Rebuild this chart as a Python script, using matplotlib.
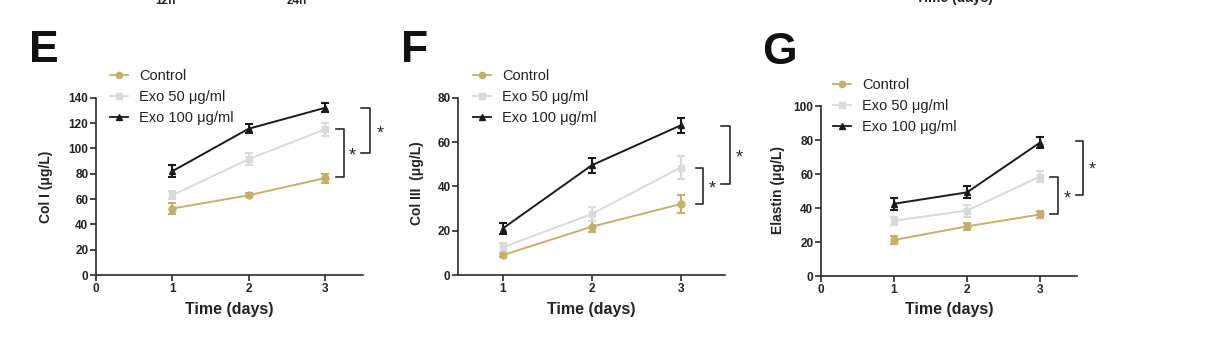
import matplotlib
matplotlib.use("Agg")
import matplotlib.pyplot as plt
from matplotlib.lines import Line2D

plt.rcParams['font.family'] = ['Liberation Sans', 'DejaVu Sans']

days = [1, 2, 3]
series_names = ["Control", "Exo 50 μg/ml", "Exo 100 μg/ml"]

# Panel E: Col I
colI_control = [52.5, 63, 76.5]
colI_control_err = [4.5, 1.5, 3.5]
colI_exo50 = [63, 91.5, 115]
colI_exo50_err = [3, 4.5, 5]
colI_exo100 = [82, 115.5, 132]
colI_exo100_err = [4.5, 3.5, 3.5]

# Panel F: Col III
colIII_control = [9, 21.8, 32]
colIII_control_err = [1, 2.5, 4]
colIII_exo50 = [12.5, 27.5, 48.5]
colIII_exo50_err = [2, 3, 5]
colIII_exo100 = [21, 49.5, 67.5]
colIII_exo100_err = [2.5, 3.5, 3.5]

# Panel G: Elastin
elastin_control = [21.2, 29.2, 36.2]
elastin_control_err = [2.5, 2, 2]
elastin_exo50 = [32.5, 38.5, 58.5]
elastin_exo50_err = [2.5, 3.5, 3]
elastin_exo100 = [42.5, 49.2, 78.5]
elastin_exo100_err = [3.5, 3.5, 3]

colors = ["#C3B06C", "#D9D9D9", "#1A1A1A"]
markers = ["o", "s", "^"]
AX_COL = "#2a2a2a"

fig = plt.figure(figsize=(12.22, 3.46), dpi=100)

def setup(ax, ylabel, yticks, xticks, xlim, ylabel_x, ylabel_y, xlabel_y):
    for s in ["top", "right"]:
        ax.spines[s].set_visible(False)
    for s in ["left", "bottom"]:
        ax.spines[s].set_linewidth(1.2)
        ax.spines[s].set_color(AX_COL)
    ax.set_xlim(*xlim)
    ax.set_ylim(yticks[0], yticks[-1])
    ax.set_yticks(yticks)
    ax.set_xticks(xticks)
    ax.tick_params(direction="out", length=4, width=1.2, color=AX_COL,
                   labelsize=8.5, labelcolor="#222222", pad=1.5)
    for lab in ax.get_xticklabels() + ax.get_yticklabels():
        lab.set_fontweight("bold")
    ax.set_ylabel(ylabel, fontsize=10, fontweight="bold", color="#222222")
    ax.yaxis.set_label_coords(ylabel_x, ylabel_y)
    ax.set_xlabel("Time (days)", fontsize=11.5, fontweight="bold", color="#222222")
    ax.xaxis.set_label_coords(0.5, xlabel_y)

def draw_series(ax, vals, errs):
    for v, e, c, m in zip(vals, errs, colors, markers):
        ax.errorbar(days, v, yerr=e, color=c, marker=m, markersize=5,
                    linewidth=1.4, elinewidth=1.5, capsize=3, capthick=1.5,
                    clip_on=False, zorder=3)

def bracket(ax, x_tick, x_line, y_top, y_bot, x_star, y_star):
    ax.plot([x_tick, x_line, x_line, x_tick], [y_top, y_top, y_bot, y_bot],
            color=AX_COL, lw=1.2, clip_on=False)
    ax.text(x_star, y_star, "*", fontsize=13, ha="center", va="center",
            color=AX_COL, clip_on=False)

def legend(ax, x, y):
    handles = [Line2D([0], [0], color=c, marker=m, markersize=4.5, lw=1.3)
               for c, m in zip(colors, markers)]
    leg = ax.legend(handles, series_names, loc="upper left", bbox_to_anchor=(x, y),
                    bbox_transform=fig.transFigure, frameon=False,
                    fontsize=10.5, handlelength=1.25, handletextpad=0.75,
                    labelspacing=0.5, borderpad=0, borderaxespad=0)
    for t in leg.get_texts():
        t.set_color("#222222")

# Panel E
axE = fig.add_axes([0.0786, 0.205, 0.2185, 0.5126])
draw_series(axE, [colI_control, colI_exo50, colI_exo100],
            [colI_control_err, colI_exo50_err, colI_exo100_err])
setup(axE, "Col I (μg/L)", list(range(0, 141, 20)), [0, 1, 2, 3], (0, 3.5),
      -0.16, 0.5, -0.15)
bracket(axE, 3.14, 3.25, 115.5, 77.5, 3.36, 94)
bracket(axE, 3.47, 3.59, 132, 96, 3.72, 111)
legend(axE, 0.09, 0.801)

# Panel F
axF = fig.add_axes([0.375, 0.205, 0.2183, 0.5126])
draw_series(axF, [colIII_control, colIII_exo50, colIII_exo100],
            [colIII_control_err, colIII_exo50_err, colIII_exo100_err])
setup(axF, "Col III  (μg/L)", list(range(0, 81, 20)), [1, 2, 3], (0.5, 3.5),
      -0.13, 0.52, -0.15)
bracket(axF, 3.17, 3.25, 48.4, 32, 3.36, 38.8)
bracket(axF, 3.46, 3.56, 67.2, 41, 3.66, 53)
legend(axF, 0.387, 0.801)

# Panel G
axG = fig.add_axes([0.6718, 0.2023, 0.2092, 0.4913])
draw_series(axG, [elastin_control, elastin_exo50, elastin_exo100],
            [elastin_control_err, elastin_exo50_err, elastin_exo100_err])
setup(axG, "Elastin (μg/L)", list(range(0, 101, 20)), [0, 1, 2, 3], (0, 3.5),
      -0.14, 0.506, -0.153)
bracket(axG, 3.14, 3.25, 58.4, 36.5, 3.37, 45.6)
bracket(axG, 3.49, 3.59, 79.6, 47.6, 3.71, 62.4)
legend(axG, 0.6817, 0.775)

# Panel letters
for x, y, letter in [(29, 62, "E"), (401, 62, "F"), (762, 64, "G")]:
    fig.text(x / 1222, 1 - y / 346, letter, fontsize=32, fontweight="bold",
             va="baseline", ha="left", color="#111111")

# Clipped text from the row above (cut off in the reference too)
fig.text(165 / 1222, 1 - 4 / 346, "12h", fontsize=8.5, fontweight="bold",
         ha="center", va="baseline", color="#222222")
fig.text(297 / 1222, 1 - 4 / 346, "24h", fontsize=8.5, fontweight="bold",
         ha="center", va="baseline", color="#222222")
fig.text(955 / 1222, 1 - 2 / 346, "Time (days)", fontsize=10, fontweight="bold",
         ha="center", va="baseline", color="#222222")

fig.savefig("out.png", dpi=100, facecolor="white")
